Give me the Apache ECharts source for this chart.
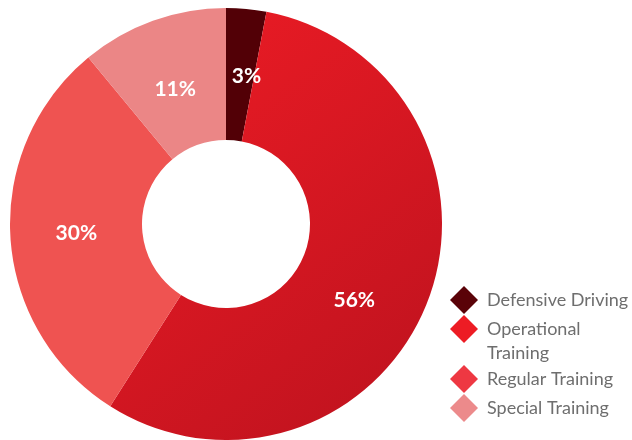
<!DOCTYPE html>
<html>
<head>
<meta charset="utf-8">
<script src="https://cdn.jsdelivr.net/npm/echarts@6/dist/echarts.min.js"></script>
<style>
  html, body { margin: 0; padding: 0; background: #ffffff; }
  #chart { width: 632px; height: 440px; }
</style>
</head>
<body>
<div id="chart"></div>
<script>
// Share of training hours by programme
const categories = ['Defensive Driving', 'Operational Training', 'Regular Training', 'Special Training'];
const shares = [3, 56, 30, 11];

// Slice fills; the operational slice gets a diagonal gradient
const sliceColors = [
  '#520006',
  new echarts.graphic.LinearGradient(0, 0, 1, 1, [
    { offset: 0, color: '#EE1C25' },
    { offset: 1, color: '#BC121E' }
  ]),
  '#EF5351',
  '#EB8686'
];
const legendColors = ['#5A0208', '#ED1C24', '#EE3842', '#EC8A8B'];

// Per-slice nudges for the inside labels
const labelOffsets = [[6, 5], [-14, 20], [3, 0], [1, 9]];

const chart = echarts.init(document.getElementById('chart'), null, { renderer: 'canvas' });

const pieData = categories.map((name, i) => ({
  name: name,
  value: shares[i],
  itemStyle: { color: sliceColors[i] },
  label: { offset: labelOffsets[i] }
}));

// One legend block per entry; the wrapped entry gets a blank leading line
// so its marker sits beside the first visible line
const legendTops = [286, 293, 365, 394];
const legends = categories.map((name, i) => ({
  data: [{ name: name, itemStyle: { color: legendColors[i] } }],
  orient: 'vertical',
  left: 450,
  top: legendTops[i],
  padding: 0,
  icon: 'diamond',
  itemWidth: 28,
  itemHeight: 28,
  selectedMode: false,
  formatter: n => n === 'Operational Training' ? ' \nOperational\nTraining' : n,
  textStyle: {
    color: '#6E6E6E',
    fontFamily: 'Lato',
    fontSize: 18,
    lineHeight: 24,
    padding: [0, 0, 0, 4]
  }
}));

chart.setOption({
  animation: false,
  backgroundColor: '#ffffff',
  legend: legends,
  series: [{
    type: 'pie',
    center: [226, 224],
    radius: [84, 216],
    startAngle: 90,
    clockwise: true,
    avoidLabelOverlap: false,
    emphasis: { disabled: true },
    itemStyle: { borderWidth: 0 },
    label: {
      show: true,
      position: 'inside',
      formatter: '{c}%',
      color: '#ffffff',
      fontFamily: 'Lato',
      fontWeight: 'bold',
      fontSize: 21
    },
    labelLine: { show: false },
    data: pieData
  }]
});
</script>
</body>
</html>
